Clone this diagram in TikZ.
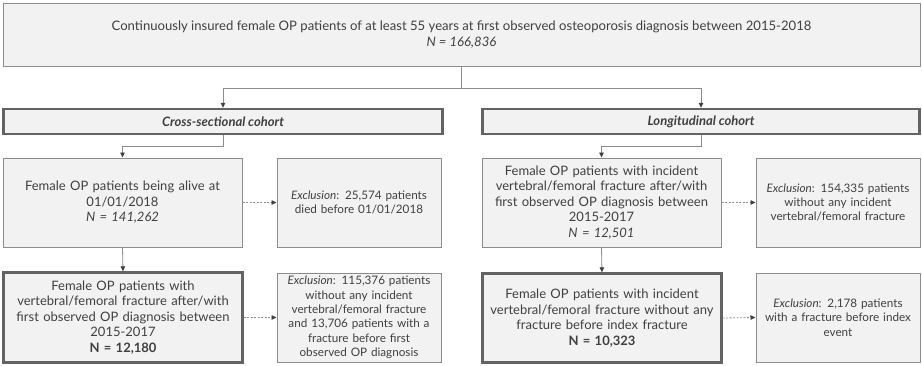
\documentclass[tikz,border=0pt]{standalone}
\usepackage{fontspec}
\setmainfont{Lato}
\usetikzlibrary{arrows.meta}
\definecolor{boxfill}{HTML}{F2F2F2}
\definecolor{thinborder}{HTML}{8C8C8C}
\definecolor{thickborder}{HTML}{636363}
\definecolor{txt}{HTML}{404040}
\definecolor{conncol}{HTML}{8C8C8C}
\tikzset{
  base/.style={rectangle, fill=boxfill, inner sep=0pt, align=center, text=txt,
    font=\fontsize{13}{15.5}\selectfont},
  exfont/.style={font=\fontsize{11.7}{14.3}\selectfont},
  thinbox/.style={base, draw=thinborder, line width=1pt},
  thickbox/.style={base, draw=thickborder, line width=2.4pt},
  conn/.style={draw=conncol, line width=0.8pt, -{Triangle[length=5pt,width=4.5pt,fill=txt,color=txt]}},
  dconn/.style={conn, dash pattern=on 2pt off 1.5pt},
  plainline/.style={draw=conncol, line width=0.8pt},
}
\begin{document}
\begin{tikzpicture}[x=1pt,y=-1pt]
\useasboundingbox (0,0) rectangle (922,365);
\node[thinbox, minimum width=917pt, minimum height=63pt, font=\fontsize{13.1}{16.5}\selectfont] (top) at (461.5,34.5)
  {Continuously insured female OP patients of at least 55 years at first observed osteoporosis diagnosis between 2015-2018\\ \textit{N = 166,836}};
\node[thickbox, minimum width=439pt, minimum height=25pt] (cross) at (223,121.5) {\textit{\textbf{Cross-sectional cohort}}};
\node[thickbox, minimum width=437pt, minimum height=25pt] (long) at (701,121.5) {\textit{\textbf{Longitudinal cohort}}};

\node[thinbox, minimum width=239pt, minimum height=89pt, text width=234pt] (a1) at (122.5,202.5)
  {Female OP patients being alive at\\ 01/01/2018\\ \textit{N = 141,262}};
\node[thinbox, exfont, minimum width=164pt, minimum height=89pt, text width=160pt] (e1) at (359,202.5)
  {\textit{Exclusion}: 25,574 patients\\ died before 01/01/2018};
\node[thickbox, minimum width=239pt, minimum height=90pt, text width=234pt] (a2) at (123,317.5)
  {Female OP patients with\\ vertebral/femoral fracture after/with\\ first observed OP diagnosis between\\ 2015-2017\\ \textbf{N = 12,180}};
\node[thinbox, exfont, minimum width=164pt, minimum height=89pt, text width=160pt] (e2) at (359,317.5)
  {\textit{Exclusion}: 115,376 patients\\ without any incident\\ vertebral/femoral fracture\\ and 13,706 patients with a\\ fracture before first\\ observed OP diagnosis};

\node[thinbox, minimum width=239pt, minimum height=89pt, text width=234pt] (b1) at (601.5,202.5)
  {Female OP patients with incident\\ vertebral/femoral fracture after/with\\ first observed OP diagnosis between\\ 2015-2017\\ \textit{N = 12,501}};
\node[thinbox, exfont, minimum width=164pt, minimum height=89pt, text width=160pt] (f1) at (838,202.5)
  {\textit{Exclusion}: 154,335 patients\\ without any incident\\ vertebral/femoral fracture};
\node[thickbox, minimum width=239pt, minimum height=89pt, text width=234pt] (b2) at (602,318)
  {Female OP patients with incident\\ vertebral/femoral fracture without any\\ fracture before index fracture\\ \textbf{N = 10,323}};
\node[thinbox, exfont, minimum width=164pt, minimum height=89pt, text width=160pt] (f2) at (838,317.5)
  {\textit{Exclusion}: 2,178 patients\\ with a fracture before index\\ event};

\coordinate (j0) at (461.5,88);
\draw[plainline] (top.south) -- (j0);
\draw[conn] (j0) -| (cross.north);
\draw[conn] (j0) -| (long.north);
\coordinate (j1) at (223,146);
\draw[conn] (cross.south) -- (j1) -| (a1.north);
\coordinate (j2) at (701,146);
\draw[conn] (long.south) -- (j2) -| (b1.north);
\draw[conn] (a1.south) -- (a2.north);
\draw[conn] (b1.south) -- (b2.north);
\draw[dconn] (a1.east) -- (e1.west);
\draw[dconn] (a2.east) -- (e2.west);
\draw[dconn] (b1.east) -- (f1.west);
\draw[dconn] (b2.east) -- (f2.west);
\end{tikzpicture}
\end{document}
